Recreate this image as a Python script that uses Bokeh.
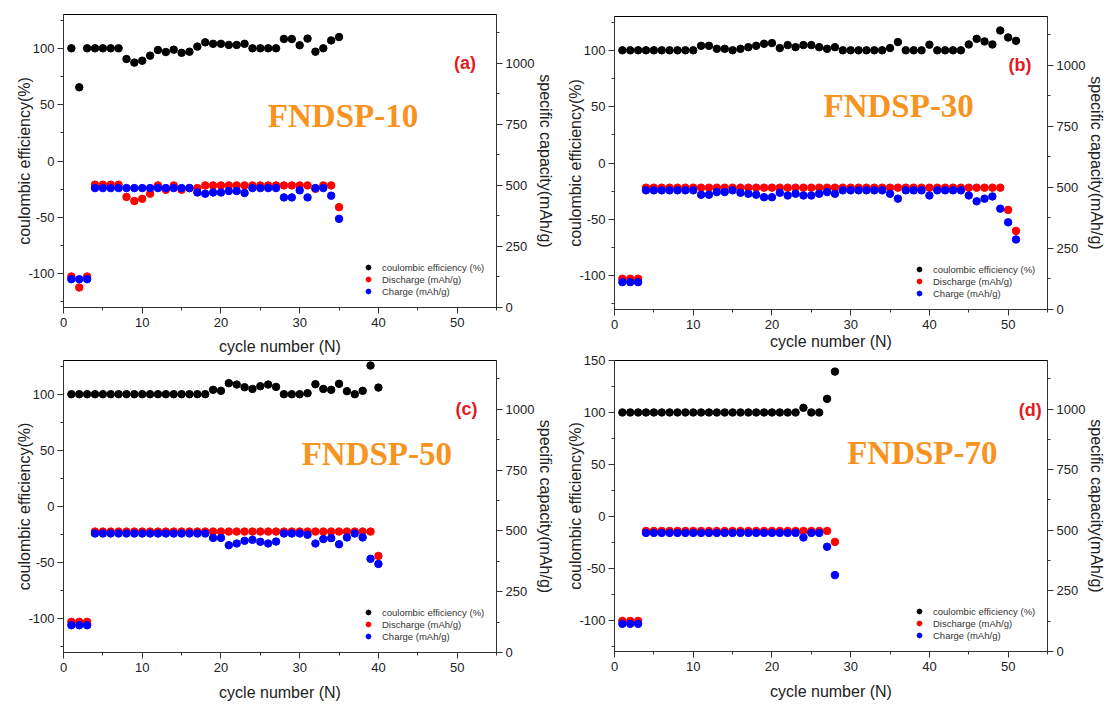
from bokeh.plotting import figure
from bokeh.models import (Range1d, LinearAxis, SingleIntervalTicker, Legend,
                          LegendItem, Label)
from bokeh.layouts import row, column
from bokeh.embed import file_html
from bokeh.resources import INLINE

# ---------------- data ----------------
cycles_a = list(range(1, 36))
ce_a = [100, 65.4, 100, 100, 100, 100, 100, 90.5, 87.3, 89, 93.5, 98.5, 96.7, 98.8, 96,
        97, 101.5, 105.3, 104, 104, 103, 103, 104, 100, 100, 100, 100, 108.3, 108.3,
        102.7, 108.6, 97, 100, 107, 110]
dis_a = [127, 82, 127, 503, 503, 503, 503, 453, 436, 445, 466, 500, 482, 500, 482, 489,
         489, 500, 500, 500, 500, 500, 500, 500, 500, 500, 500, 500, 500, 500, 500, 486,
         500, 500, 411]
chg_a = [116, 116, 116, 489, 489, 489, 489, 489, 489, 489, 489, 489, 489, 489, 489, 489,
         471, 466, 471, 471, 477, 477, 469, 489, 489, 489, 489, 451, 451, 480, 451, 489,
         489, 458, 363]

cycles_b = list(range(1, 52))
ce_b = [100, 100, 100, 100, 100, 100, 100, 100, 100, 100, 104, 104, 101.3, 101.3, 100,
        101.3, 102.8, 104, 105.8, 106.4, 102, 104.6, 102.8, 104.6, 104.6, 102.8, 101.3,
        102.8, 100, 100, 100, 100, 100, 100, 102, 107.3, 100, 100, 100, 105, 100, 100,
        100, 100, 105.2, 110.2, 107.9, 105.2, 117.6, 111.4, 108.4]
dis_b = [126, 126, 126, 499, 499, 499, 499, 499, 499, 499, 499, 499, 499, 499, 499, 499,
         499, 499, 499, 499, 499, 499, 499, 499, 499, 499, 499, 499, 499, 499, 499, 499,
         499, 499, 499, 499, 499, 499, 499, 499, 499, 499, 499, 499, 499, 499, 499, 499,
         499, 408, 322]
chg_b = [112, 112, 112, 488, 488, 488, 488, 488, 488, 488, 470, 470, 481, 481, 488, 478,
         474, 470, 460, 460, 478, 467, 474, 467, 467, 474, 481, 474, 488, 488, 488, 488,
         488, 488, 474, 454, 488, 488, 488, 467, 488, 488, 488, 488, 467, 443, 454, 463,
         413, 357, 287]

cycles_c = list(range(1, 41))
ce_c = [100, 100, 100, 100, 100, 100, 100, 100, 100, 100, 100, 100, 100, 100, 100, 100,
        100, 100, 103.9, 103, 109.8, 108.6, 106.2, 104.7, 107.1, 108.6, 106.5, 100, 100,
        100, 100.9, 108.9, 104.7, 103.9, 109.2, 102.7, 100, 103, 125.5, 105.9]
dis_c = [126, 126, 126, 497, 497, 497, 497, 497, 497, 497, 497, 497, 497, 497, 497, 497,
         497, 497, 497, 497, 497, 497, 497, 497, 497, 497, 497, 497, 497, 497, 497, 497,
         497, 497, 497, 497, 497, 497, 497, 397]
chg_c = [112, 112, 112, 489, 489, 489, 489, 489, 489, 489, 489, 489, 489, 489, 489, 489,
         489, 489, 471, 471, 441, 448, 459, 463, 455, 448, 456, 489, 489, 489, 484, 448,
         466, 470, 445, 473, 489, 473, 385, 364]

cycles_d = list(range(1, 29))
ce_d = [100, 100, 100, 100, 100, 100, 100, 100, 100, 100, 100, 100, 100, 100, 100, 100,
        100, 100, 100, 100, 100, 100, 100, 104.5, 100, 100, 113.1, 139.3]
dis_d = [126, 126, 126, 497, 497, 497, 497, 497, 497, 497, 497, 497, 497, 497, 497, 497,
         497, 497, 497, 497, 497, 497, 497, 497, 497, 497, 497, 452]
chg_d = [114, 114, 114, 489, 489, 489, 489, 489, 489, 489, 489, 489, 489, 489, 489, 489,
         489, 489, 489, 489, 489, 489, 489, 470, 489, 489, 432, 315]

panel_tags = ["(a)", "(b)", "(c)", "(d)"]
sample_names = ["FNDSP-10", "FNDSP-30", "FNDSP-50", "FNDSP-70"]
legend_labels = ["coulombic efficiency (%)", "Discharge (mAh/g)", "Charge (mAh/g)"]
x_label = "cycle number (N)"
left_label = "coulombic efficiency(%)"
right_label = "specific capacity(mAh/g)"

SANS = "Liberation Sans"
SERIF = "Liberation Serif"


def style_axis(ax, interval, overrides=None):
    ax.ticker = SingleIntervalTicker(interval=interval, num_minor_ticks=2)
    ax.major_tick_out = 6
    ax.major_tick_in = 0
    ax.minor_tick_out = 3
    ax.minor_tick_in = 0
    ax.axis_line_color = "#333333"
    ax.major_tick_line_color = "#333333"
    ax.minor_tick_line_color = "#333333"
    ax.major_label_text_font = SANS
    ax.major_label_text_font_size = "13px"
    ax.major_label_text_color = "#222222"
    ax.major_label_standoff = 3
    ax.axis_label_text_font = SANS
    ax.axis_label_text_font_size = "16px"
    ax.axis_label_text_font_style = "normal"
    ax.axis_label_text_color = "#222222"
    if overrides:
        ax.major_label_overrides = overrides


def make_panel(cyc, ce, dis, chg, ytop, tag, name, w, h, borders, tag_xy, name_xy,
               xlab_standoff):
    bl, br, bt, bb = borders
    p = figure(width=w, height=h, x_range=Range1d(0, 55), y_range=Range1d(-130, ytop),
               output_backend="svg", toolbar_location=None,
               min_border_left=bl, min_border_right=br,
               min_border_top=bt, min_border_bottom=bb)
    p.extra_y_ranges = {"cap": Range1d(0, 1200)}
    p.xgrid.visible = False
    p.ygrid.visible = False
    p.outline_line_color = "black"
    p.outline_line_width = 1
    p.background_fill_color = "white"
    p.border_fill_color = "white"

    style_axis(p.xaxis[0], 10)
    p.xaxis[0].axis_label = x_label
    p.xaxis[0].major_label_standoff = 4
    p.xaxis[0].axis_label_standoff = xlab_standoff
    style_axis(p.yaxis[0], 50, {-50: "-50", -100: "-100"})
    p.yaxis[0].axis_label = left_label
    p.yaxis[0].axis_label_standoff = -8

    rax = LinearAxis(y_range_name="cap", axis_label=right_label)
    style_axis(rax, 250)
    rax.axis_label_standoff = 0
    p.add_layout(rax, "right")

    r_ce = p.scatter(cyc, ce, size=7.5, color="black")
    r_dis = p.scatter(cyc, dis, size=7.5, color="#ff0000", y_range_name="cap")
    r_chg = p.scatter(cyc, chg, size=7.5, color="#0000ff", y_range_name="cap")

    legend = Legend(items=[LegendItem(label=legend_labels[0], renderers=[r_ce]),
                           LegendItem(label=legend_labels[1], renderers=[r_dis]),
                           LegendItem(label=legend_labels[2], renderers=[r_chg])],
                    location=(299, 10), glyph_width=12, glyph_height=12,
                    label_height=12, spacing=0, padding=0, margin=0,
                    label_standoff=8, label_text_font=SANS,
                    label_text_font_size="9.5px", label_text_color="#333333",
                    border_line_alpha=0, background_fill_alpha=0)
    p.add_layout(legend)

    p.add_layout(Label(x=tag_xy[0], y=tag_xy[1], text=tag, text_font=SANS,
                       text_font_style="bold", text_font_size="18px",
                       text_color="#e31a22", text_align="center",
                       text_baseline="middle"))
    p.add_layout(Label(x=name_xy[0], y=name_xy[1], text=name, text_font=SERIF,
                       text_font_style="bold", text_font_size="33px",
                       text_color="#f7931e", text_align="center",
                       text_baseline="middle"))
    return p


pa = make_panel(cycles_a, ce_a, dis_a, chg_a, 130, panel_tags[0], sample_names[0],
                557, 357, (63, 58, 14, 50), (51, 87), (35.5, 40), 8)
pc = make_panel(cycles_c, ce_c, dis_c, chg_c, 130, panel_tags[2], sample_names[2],
                557, 348, (63, 58, 3, 53), (51.2, 87), (39.8, 47), 9)
pb = make_panel(cycles_b, ce_b, dis_b, chg_b, 130, panel_tags[1], sample_names[1],
                551, 352, (56, 60, 16, 42), (51.5, 87), (36.1, 51), 1)
pd = make_panel(cycles_d, ce_d, dis_d, chg_d, 150, panel_tags[3], sample_names[3],
                551, 353, (57, 59, 8, 54), (52.8, 102), (39.1, 60.6), 9)

layout = row(column(pa, pc), column(pb, pd))

open("out.html", "w").write(file_html(layout, INLINE))
